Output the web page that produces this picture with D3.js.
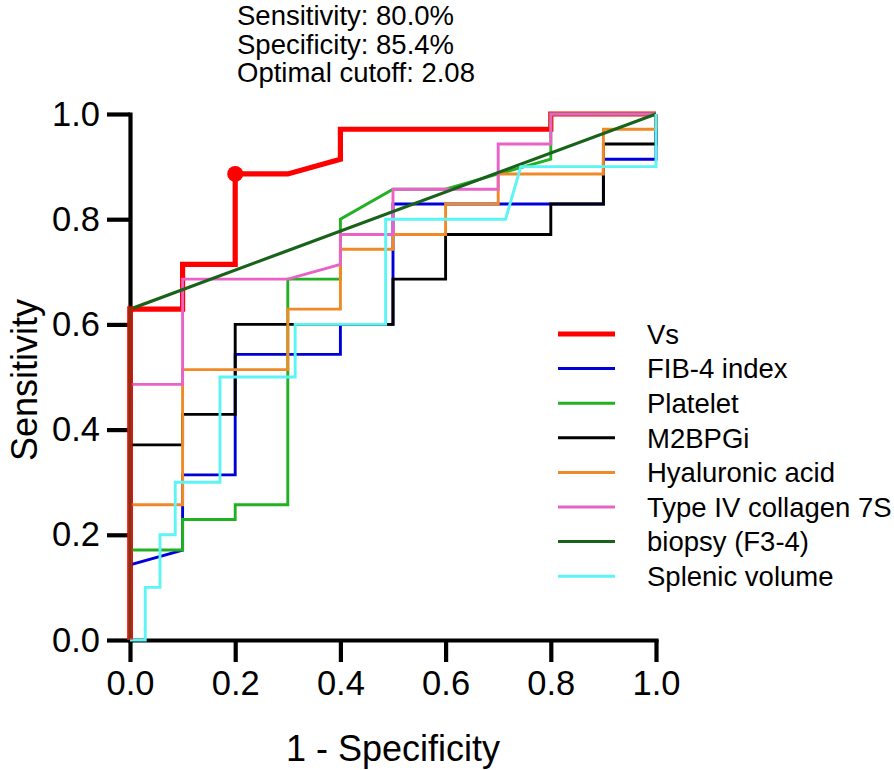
<!DOCTYPE html>
<html>
<head>
<meta charset="utf-8">
<script src="https://cdn.jsdelivr.net/npm/d3@7"></script>
<style>
html,body{margin:0;padding:0;background:#fff;}
svg{display:block;font-family:"Liberation Sans",Arial,sans-serif;}
</style>
</head>
<body>
<svg id="chart" width="894" height="770"></svg>
<script>
// ---- data ----
const seriesNames = ["Vs","FIB-4 index","Platelet","M2BPGi","Hyaluronic acid","Type IV collagen 7S","biopsy (F3-4)","Splenic volume"];
const seriesColors = ["#ff0000","#0000d8","#22b122","#000000","#f08a28","#e862c8","#196219","#5cf4f4"];
const seriesWidths = [5.2,2.9,2.9,2.9,2.9,2.9,3.2,2.9];

const vsFpr  = [0,0,0.1,0.1,0.2,0.2,0.3,0.4,0.4,0.8,0.8,1];
const vsTpr  = [0,0.629,0.629,0.714,0.714,0.886,0.886,0.914,0.971,0.971,1,1];
const fibFpr = [0,0,0.1,0.1,0.2,0.2,0.4,0.4,0.5,0.5,0.9,0.9,1,1];
const fibTpr = [0,0.143,0.171,0.314,0.314,0.543,0.543,0.6,0.6,0.829,0.829,0.914,0.914,1];
const pltFpr = [0,0,0.1,0.1,0.2,0.2,0.3,0.3,0.4,0.4,0.5,0.6,0.7,0.8,0.8,0.8,1];
const pltTpr = [0,0.171,0.171,0.229,0.229,0.257,0.257,0.686,0.686,0.8,0.857,0.857,0.886,0.914,0.943,1,1];
const m2bFpr = [0,0,0.1,0.1,0.2,0.2,0.5,0.5,0.6,0.6,0.8,0.8,0.9,0.9,1,1];
const m2bTpr = [0,0.371,0.371,0.429,0.429,0.6,0.6,0.686,0.686,0.771,0.771,0.829,0.829,0.943,0.943,1];
const haFpr  = [0,0,0.1,0.1,0.3,0.3,0.4,0.4,0.5,0.5,0.6,0.6,0.7,0.7,0.9,0.9,1,1];
const haTpr  = [0,0.257,0.257,0.514,0.514,0.629,0.629,0.743,0.743,0.771,0.771,0.829,0.829,0.886,0.886,0.971,0.971,1];
const t4Fpr  = [0,0,0.1,0.1,0.3,0.4,0.4,0.5,0.5,0.7,0.7,0.8,0.8,1];
const t4Tpr  = [0,0.486,0.486,0.686,0.686,0.714,0.771,0.771,0.857,0.857,0.943,0.943,1,1];
const bioFpr = [0,0,1];
const bioTpr = [0,0.629,1];
const splFpr = [0,0.029,0.029,0.057,0.057,0.086,0.086,0.171,0.171,0.314,0.314,0.486,0.486,0.714,0.743,1,1];
const splTpr = [0,0,0.1,0.1,0.2,0.2,0.3,0.3,0.5,0.5,0.6,0.6,0.8,0.8,0.9,0.9,1];

const optimalPoint = [0.2, 0.886];
const annotationLines = ["Sensitivity: 80.0%","Specificity: 85.4%","Optimal cutoff: 2.08"];
const xTicks = [0,0.2,0.4,0.6,0.8,1.0];
const yTicks = [0,0.2,0.4,0.6,0.8,1.0];
const xTitle = "1 - Specificity";
const yTitle = "Sensitivity";

// ---- build ----
const fprs = [vsFpr,fibFpr,pltFpr,m2bFpr,haFpr,t4Fpr,bioFpr,splFpr];
const tprs = [vsTpr,fibTpr,pltTpr,m2bTpr,haTpr,t4Tpr,bioTpr,splTpr];
const series = seriesNames.map((n,i)=>({name:n,color:seriesColors[i],width:seriesWidths[i],
  pts:fprs[i].map((f,j)=>[f,tprs[i][j]])}));

const svg = d3.select("#chart");
const x = d3.scaleLinear().domain([0,1]).range([130,656]);
const y = d3.scaleLinear().domain([0,1]).range([640,114]);
const line = d3.line().x(d=>x(d[0])).y(d=>y(d[1]));

// axes
const xAxis = svg.append("g").attr("transform","translate(0,640)")
  .call(d3.axisBottom(x).tickValues(xTicks).tickFormat(d3.format(".1f")).tickSize(22).tickPadding(9).tickSizeOuter(0));
const yAxis = svg.append("g").attr("transform","translate(130,0)")
  .call(d3.axisLeft(y).tickValues(yTicks).tickFormat(d3.format(".1f")).tickSize(23).tickPadding(7).tickSizeOuter(0));
[xAxis,yAxis].forEach(g=>{
  g.selectAll("path.domain").attr("stroke","#000").attr("stroke-width",4.2).attr("stroke-linecap","square");
  g.selectAll(".tick line").attr("stroke","#000").attr("stroke-width",4.2);
  g.selectAll(".tick text").attr("fill","#000").attr("font-size",34.5).attr("font-family","Liberation Sans, Arial, sans-serif");
});

// series
const gLines = svg.append("g");
series.forEach(s=>{
  gLines.append("path").datum(s.pts).attr("d",line)
    .attr("fill","none").attr("stroke",s.color).attr("stroke-width",s.width)
    .attr("stroke-linejoin","miter").attr("stroke-linecap","butt");
});
// blended overlap along the y-axis
svg.append("clipPath").attr("id","yclip").append("rect")
  .attr("x",x(0)-4).attr("y",0).attr("width",8).attr("height",770);
svg.append("path").datum(series[0].pts).attr("d",line).attr("clip-path","url(#yclip)")
  .attr("fill","none").attr("stroke","#ff0000").attr("stroke-width",6).attr("stroke-opacity",0.5);

// optimal point
svg.append("circle").attr("cx",x(optimalPoint[0])).attr("cy",y(optimalPoint[1])).attr("r",8).attr("fill","#ff0000");

// annotation
svg.append("g").selectAll("text").data(annotationLines).join("text")
  .attr("x",237).attr("y",(d,i)=>25+i*28.7).attr("font-size",27.5).attr("fill","#000").text(d=>d);

// axis titles
svg.append("text").attr("x",393).attr("y",761).attr("text-anchor","middle").attr("font-size",36).attr("fill","#000").text(xTitle);
svg.append("text").attr("transform","translate(37,380) rotate(-90)").attr("text-anchor","middle").attr("font-size",36).attr("fill","#000").text(yTitle);

// legend
const leg = svg.append("g").attr("transform","translate(558,334)");
const rows = leg.selectAll("g").data(series).join("g").attr("transform",(d,i)=>`translate(0,${i*34.6})`);
rows.append("line").attr("x1",0).attr("x2",57).attr("y1",0).attr("y2",0)
  .attr("stroke",d=>d.color).attr("stroke-width",(d,i)=>i===0?5:3);
rows.append("text").attr("x",89).attr("y",9.8).attr("font-size",27.5).attr("fill","#000").text(d=>d.name);
</script>
</body>
</html>
